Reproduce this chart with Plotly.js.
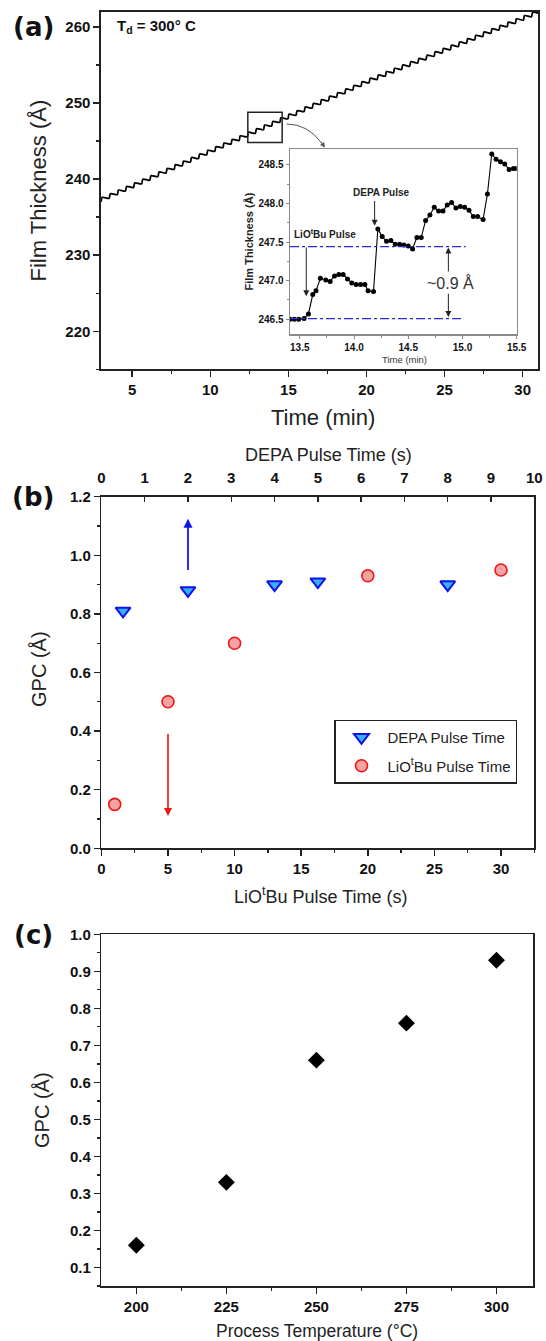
<!DOCTYPE html>
<html>
<head>
<meta charset="utf-8">
<script src="https://cdn.plot.ly/plotly-3.0.1.min.js"></script>
<style>html,body{margin:0;padding:0;background:#fff;}#chart{width:546px;height:1341px;}</style>
</head>
<body>
<div id="chart"></div>
<script>
// ---------- Panel (a): main film-thickness trace ----------
const aTime = [3.00,3.08,3.52,3.60,4.04,4.12,4.56,4.64,5.08,5.16,5.60,5.68,6.12,6.20,6.64,6.72,7.16,7.24,7.68,7.76,8.20,8.28,8.72,8.80,9.24,9.32,9.76,9.84,10.28,10.36,10.80,10.88,11.32,11.40,11.84,11.92,12.36,12.44,12.88,12.96,13.40,13.48,13.92,14.00,14.44,14.52,14.96,15.04,15.48,15.56,16.00,16.08,16.52,16.60,17.04,17.12,17.56,17.64,18.08,18.16,18.60,18.68,19.12,19.20,19.64,19.72,20.16,20.24,20.68,20.76,21.20,21.28,21.72,21.80,22.24,22.32,22.76,22.84,23.28,23.36,23.80,23.88,24.32,24.40,24.84,24.92,25.36,25.44,25.88,25.96,26.40,26.48,26.92,27.00,27.44,27.52,27.96,28.04,28.48,28.56,29.00,29.08,29.52,29.60,30.04,30.12,30.56,30.64,31.08];
const aThick = [237.00,237.60,237.48,238.08,237.95,238.55,238.43,239.03,238.90,239.50,239.38,239.98,239.85,240.45,240.33,240.93,240.80,241.40,241.28,241.88,241.75,242.35,242.23,242.83,242.70,243.30,243.18,243.78,243.65,244.25,244.13,244.73,244.60,245.20,245.08,245.68,245.55,246.15,246.02,246.62,246.50,247.10,246.97,247.57,247.45,248.05,247.92,248.52,248.39,248.99,248.87,249.47,249.34,249.94,249.82,250.42,250.29,250.89,250.76,251.36,251.24,251.84,251.71,252.31,252.19,252.79,252.66,253.26,253.09,253.69,253.53,254.13,253.96,254.56,254.39,254.99,254.83,255.43,255.26,255.86,255.69,256.29,256.13,256.73,256.56,257.16,256.99,257.59,257.43,258.03,257.86,258.46,258.29,258.89,258.73,259.33,259.16,259.76,259.59,260.19,260.03,260.63,260.46,261.06,260.89,261.49,261.33,261.93,261.76];

// ---------- Panel (a) inset ----------
const insetTime = [13.41,13.45,13.49,13.54,13.58,13.62,13.65,13.69,13.74,13.78,13.82,13.86,13.90,13.94,13.98,14.02,14.06,14.10,14.13,14.18,14.22,14.26,14.30,14.34,14.38,14.42,14.46,14.50,14.54,14.58,14.62,14.66,14.70,14.74,14.78,14.82,14.86,14.90,14.94,14.98,15.02,15.06,15.10,15.14,15.19,15.23,15.27,15.31,15.35,15.39,15.43,15.47,15.50];
const insetThick = [246.50,246.50,246.50,246.51,246.57,246.82,246.87,247.03,247.01,246.99,247.06,247.08,247.08,247.02,246.97,246.95,246.95,246.95,246.87,246.86,247.67,247.57,247.51,247.52,247.47,247.47,247.46,247.45,247.41,247.56,247.56,247.78,247.85,247.95,247.90,247.90,247.98,248.01,247.94,247.96,247.95,247.91,247.83,247.83,247.79,248.12,248.64,248.57,248.54,248.51,248.44,248.45,248.45];
const insetLevels = [247.44, 246.51];

// ---------- Panel (b) ----------
const depaTime = [0.5, 2, 4, 5, 8];
const depaGPC = [0.81, 0.88, 0.90, 0.91, 0.90];
const liTime = [1, 5, 10, 20, 30];
const liGPC = [0.15, 0.50, 0.70, 0.93, 0.95];

// ---------- Panel (c) ----------
const tempC = [200, 225, 250, 275, 300];
const tempGPC = [0.16, 0.33, 0.66, 0.76, 0.93];

const AX = '#222';
const tickFont = {family: 'Liberation Sans, Arial, sans-serif', size: 15, color: '#111', weight: 700};
const insetTickFont = {family: 'Liberation Sans, Arial, sans-serif', size: 10, color: '#111', weight: 700};
function base(extra) {
  return Object.assign({
    showgrid: false, zeroline: false, showline: true, linecolor: AX, linewidth: 1.6,
    ticks: 'outside', ticklen: 6, tickwidth: 1.5, tickcolor: AX, tickfont: tickFont
  }, extra);
}
const W = 546, H = 1341;
const px = v => v / W, py = v => 1 - v / H;
function label(x, y, text, font, extra) {
  return Object.assign({xref: 'paper', yref: 'paper', x: px(x), y: py(y), xanchor: 'center', yanchor: 'middle',
                        text: text, showarrow: false, font: font}, extra || {});
}
function arrow(xr, yr, x, y, ax, ay, color, width, size) {
  return {xref: xr, yref: yr, axref: xr, ayref: yr, x: x, y: y, ax: ax, ay: ay, text: '', showarrow: true,
          arrowhead: 2, arrowsize: size, arrowwidth: width, arrowcolor: color, standoff: 0, startstandoff: 0};
}

const traces = [
  {x: aTime, y: aThick, xaxis: 'x', yaxis: 'y', mode: 'lines', line: {color: '#000', width: 1.8, shape: 'spline', smoothing: 0.7}, showlegend: false, hoverinfo: 'skip'},
  {x: insetTime, y: insetThick, xaxis: 'x2', yaxis: 'y2', mode: 'lines+markers', line: {color: '#000', width: 1.1}, marker: {color: '#000', size: 5}, showlegend: false},
  {x: depaTime, y: depaGPC, xaxis: 'x4', yaxis: 'y3', mode: 'markers', name: 'DEPA Pulse Time', legendgroup: 'g1',
   marker: {symbol: 'triangle-down', size: 13, color: '#35b0f0', line: {color: '#1010f0', width: 2}}},
  {x: liTime, y: liGPC, xaxis: 'x3', yaxis: 'y3', mode: 'markers', name: 'LiO<sup>t</sup>Bu Pulse Time', legendgroup: 'g2',
   marker: {symbol: 'circle', size: 12, color: '#f4a3a3', line: {color: '#ee1515', width: 1.6}}},
  {x: tempC, y: tempGPC, xaxis: 'x5', yaxis: 'y5', mode: 'markers', showlegend: false,
   marker: {symbol: 'diamond', size: 13, color: '#000'}}
];

const insetLineShapes = insetLevels.map((lv, i) => ({
  type: 'line', xref: 'x2', yref: 'y2', x0: 13.41, x1: i === 0 ? 15.03 : 15.01, y0: lv, y1: lv,
  line: {color: '#2a2ad8', width: 1.3, dash: 'dashdot'}
}));

const panelFont = {family: 'DejaVu Sans', size: 26, color: '#111'};
const layout = {
  width: W, height: H,
  margin: {l: 0, r: 0, t: 0, b: 0},
  paper_bgcolor: '#fff', plot_bgcolor: '#fff',
  font: {family: 'Liberation Sans, Arial, sans-serif', color: '#111'},
  showlegend: true,
  legend: {x: px(334), y: py(719.5), xanchor: 'left', yanchor: 'top', bgcolor: '#fff',
           bordercolor: AX, borderwidth: 1.5, font: {size: 15, color: '#222'},
           traceorder: 'grouped', tracegroupgap: 6, itemwidth: 42},
  xaxis: base({domain: [px(101), px(538.3)], anchor: 'y', range: [3, 31], dtick: 5, tick0: 0, mirror: true,
               minor: {dtick: 2.5, ticks: 'outside', ticklen: 3, tickwidth: 1.3, tickcolor: AX, showgrid: false}}),
  yaxis: base({domain: [py(369.3), py(11.7)], anchor: 'x', range: [215, 262], dtick: 10, tick0: 220, mirror: true,
               minor: {dtick: 5, ticks: 'outside', ticklen: 3, tickwidth: 1.3, tickcolor: AX, showgrid: false}}),
  xaxis2: base({domain: [px(290), px(516.7)], anchor: 'y2', range: [13.41, 15.5], dtick: 0.5, tick0: 13.5, tickformat: '.1f',
                linecolor: '#8a8a8a', linewidth: 1.5, tickcolor: '#8a8a8a', ticklen: 3, tickwidth: 1, mirror: true, tickfont: insetTickFont,
                minor: {dtick: 0.25, ticks: 'outside', ticklen: 2, tickwidth: 1, tickcolor: '#8a8a8a', showgrid: false}}),
  yaxis2: base({domain: [py(334.3), py(149.3)], anchor: 'x2', range: [246.306, 248.70], dtick: 0.5, tick0: 246.5, tickformat: '.1f',
                linecolor: '#8a8a8a', linewidth: 1.5, tickcolor: '#8a8a8a', ticklen: 3, tickwidth: 1, mirror: true, tickfont: insetTickFont,
                minor: {dtick: 0.25, ticks: 'outside', ticklen: 2, tickwidth: 1, tickcolor: '#8a8a8a', showgrid: false}}),
  xaxis3: base({domain: [px(101.4), px(534.3)], anchor: 'y3', range: [0, 32.5], dtick: 5, tick0: 0, mirror: true,
                minor: {dtick: 2.5, ticks: 'outside', ticklen: 3, tickwidth: 1.3, tickcolor: AX, showgrid: false}}),
  yaxis3: base({domain: [py(848.3), py(496.7)], anchor: 'x3', range: [0, 1.2], dtick: 0.2, tick0: 0, tickformat: '.1f', mirror: true,
                minor: {dtick: 0.1, ticks: 'outside', ticklen: 3, tickwidth: 1.3, tickcolor: AX, showgrid: false}}),
  xaxis4: base({overlaying: 'x3', side: 'top', anchor: 'y3', range: [0, 10], dtick: 1, tick0: 0, ticks: 'inside', ticklen: 5,
                ticklabelstandoff: 6}),
  xaxis5: base({domain: [px(101.4), px(533.2)], anchor: 'y5', range: [190.3, 310.2], dtick: 25, tick0: 200, mirror: true,
                minor: {dtick: 12.5, ticks: 'outside', ticklen: 3, tickwidth: 1.3, tickcolor: AX, showgrid: false}}),
  yaxis5: base({domain: [py(1286), py(934.3)], anchor: 'x5', range: [0.05, 1.0], dtick: 0.1, tick0: 0, tickformat: '.1f', mirror: true,
                minor: {dtick: 0.05, ticks: 'outside', ticklen: 3, tickwidth: 1.3, tickcolor: AX, showgrid: false}}),
  shapes: [
    {type: 'rect', xref: 'x', yref: 'y', x0: 12.4, x1: 14.6, y0: 244.8, y1: 248.8, line: {color: '#222', width: 1.5}},
    {type: 'path', xref: 'paper', yref: 'paper',
     path: `M ${px(286.5)} ${py(124)} Q ${px(308)} ${py(124)} ${px(322)} ${py(143.5)}`, line: {color: '#555', width: 1}}
  ].concat(insetLineShapes),
  annotations: [
    // panel letters
    label(33, 27, '<b>(a)</b>', panelFont),
    label(33, 497, '<b>(b)</b>', panelFont),
    label(33, 934.5, '<b>(c)</b>', panelFont),
    // panel (a) titles
    label(38, 190.5, 'Film Thickness (Å)', {size: 22, color: '#222'}, {textangle: -90}),
    label(323, 417, 'Time (min)', {size: 22, color: '#222'}),
    label(115, 27, '<b>T<sub>d</sub> = 300° C</b>', {size: 15, color: '#111'}, {xanchor: 'left'}),
    // curved connector arrowhead
    {xref: 'paper', yref: 'paper', x: px(325), y: py(147.5), ax: -5, ay: -7, text: '', showarrow: true, arrowhead: 2, arrowsize: 1, arrowwidth: 1, arrowcolor: '#555'},
    // inset titles and labels
    label(248.5, 242, '<b>Film Thickness (Å)</b>', {size: 11, color: '#222'}, {textangle: -90}),
    label(404, 359.5, 'Time (min)', {size: 9.5, color: '#333'}),
    {xref: 'x2', yref: 'y2', x: 13.73, y: 247.61, xanchor: 'center', yanchor: 'middle', text: '<b>LiO<sup>t</sup>Bu Pulse</b>', showarrow: false, font: {size: 10, color: '#222'}},
    {xref: 'x2', yref: 'y2', x: 14.25, y: 248.14, xanchor: 'center', yanchor: 'middle', text: '<b>DEPA Pulse</b>', showarrow: false, font: {size: 10, color: '#222'}},
    arrow('x2', 'y2', 13.56, 246.80, 13.56, 247.45, '#222', 1, 1.2),
    arrow('x2', 'y2', 14.19, 247.71, 14.19, 248.05, '#222', 1, 1.2),
    arrow('x2', 'y2', 14.87, 247.43, 14.87, 247.10, '#222', 1, 1.2),
    arrow('x2', 'y2', 14.87, 246.53, 14.87, 246.85, '#222', 1, 1.2),
    {xref: 'x2', yref: 'y2', x: 14.89, y: 246.97, xanchor: 'center', yanchor: 'middle', text: '~0.9 Å', showarrow: false, font: {size: 16, color: '#333'}},
    // panel (b) titles
    label(328, 455, 'DEPA Pulse Time (s)', {size: 18, color: '#222'}),
    label(321, 895, 'LiO<sup>t</sup>Bu Pulse Time (s)', {size: 18, color: '#222'}),
    label(39, 669, 'GPC (Å)', {size: 20, color: '#222'}, {textangle: -90}),
    // panel (b) arrows
    arrow('x4', 'y3', 2, 1.125, 2, 0.945, '#1515ee', 1.8, 1),
    arrow('x3', 'y3', 5, 0.11, 5, 0.395, '#ee1515', 1.6, 1),
    // panel (c) titles
    label(42, 1110, 'GPC (Å)', {size: 20, color: '#222'}, {textangle: -90}),
    label(317, 1331, 'Process Temperature (°C)', {size: 17.5, color: '#222'})
  ]
};

Plotly.newPlot('chart', traces, layout, {staticPlot: true, displayModeBar: false});
</script>
</body>
</html>
